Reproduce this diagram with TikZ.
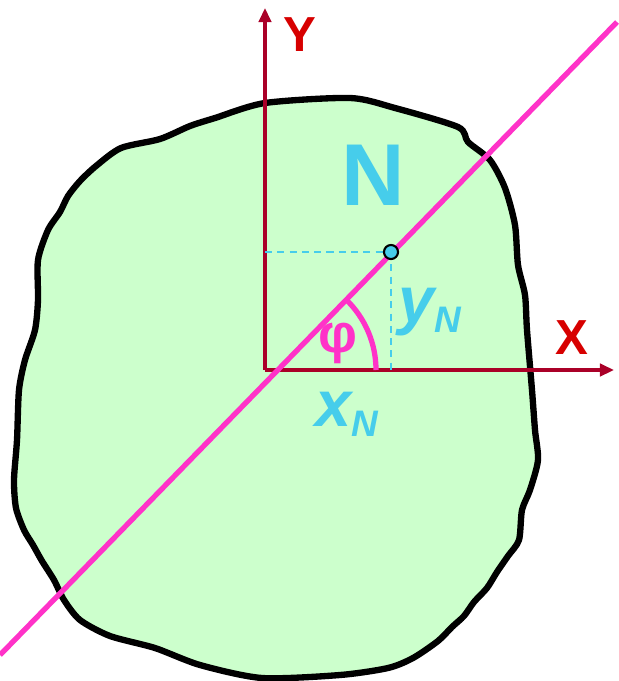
\documentclass[tikz,border=0pt]{standalone}
\usepackage{fontspec}
\setmainfont{Liberation Sans}
\definecolor{blobgreen}{RGB}{204, 255, 204}
\definecolor{axisred}{RGB}{170, 0, 40}
\definecolor{labelred}{RGB}{215, 0, 0}
\definecolor{popcyan}{RGB}{70, 205, 235}
\definecolor{poppink}{RGB}{255, 50, 200}
\usetikzlibrary{arrows.meta, calc}

\begin{document}
\begin{tikzpicture}[x=0.02cm, y=-0.02cm,
  axis/.style={draw=axisred, line width=2.5pt, -{Triangle[length=8pt, width=7pt]}},
  axlabel/.style={text=labelred, font=\fontsize{28}{30}\selectfont\bfseries},
  guide/.style={draw=popcyan, line width=0.8pt, dash pattern=on 4pt off 3pt},
  coordlabel/.style={text=popcyan, font=\fontsize{37}{39}\selectfont\bfseries\itshape}
]
  \useasboundingbox (0,0) rectangle (619,681);
  % body outline
  \draw[fill=blobgreen, line width=3.6pt, line join=round]
    plot[smooth cycle, tension=0.45] coordinates {
      (265,103) (350,98) (395,108) (458,127) (468,142) (490,160) (505,188)
      (515,225) (518,265) (525,295) (527,330) (532,390) (535,430) (538,460)
      (530,490) (522,510) (519,540) (508,556) (497,572) (487,588) (474,602)
      (464,616) (452,627) (438,641) (413,658) (388,668) (340,675) (262,678)
      (200,665) (155,648) (110,636) (80,620) (64,600) (54,580) (42,561)
      (33,545) (24,530) (16,508) (14,480) (17,440) (19,390) (25,360)
      (35,330) (38,300) (38,260) (48,230) (60,212) (68,196) (80,181)
      (96,166) (121,148) (160,139) (190,126) (215,118)};
  \coordinate (O) at (265,370);
  \coordinate (C) at (278,370);
  \coordinate (N) at (391,252);
  % axes
  \draw[axis] (O) -- (265,8) coordinate (Ytip);
  \draw[axis] (O) -- (614,370) coordinate (Xtip);
  \node[axlabel] (Ylab) at (300,35) {Y};
  \node[axlabel] (Xlab) at (572,338) {X};
  % projections of N
  \draw[guide] (O |- N) -- (N);
  \draw[guide] (N) -- (N |- O);
  % line through N
  \draw[poppink, line width=3pt] (0,655) coordinate (La) -- (617,22) coordinate (Lb);
  \draw[poppink, line width=3pt] ($(C)+(98,0)$) arc[start angle=0, end angle=-45.7, radius=98];
  \node[text=poppink, font=\fontsize{31}{33}\selectfont\bfseries] (phi) at (338,343) {φ};
  \node[circle, draw=black, fill=popcyan, line width=1.2pt, minimum size=8pt, inner sep=0pt] (Ndot) at (N) {};
  \node[text=popcyan, font=\fontsize{50}{52}\selectfont\bfseries] (Nlab) at (373,175) {N};
  \node[coordlabel] (yN) at (430,312) {y\textsubscript{\fontsize{21}{23}\selectfont N}};
  \node[coordlabel] (xN) at (347,414) {x\textsubscript{\fontsize{21}{23}\selectfont N}};
\end{tikzpicture}
\end{document}
